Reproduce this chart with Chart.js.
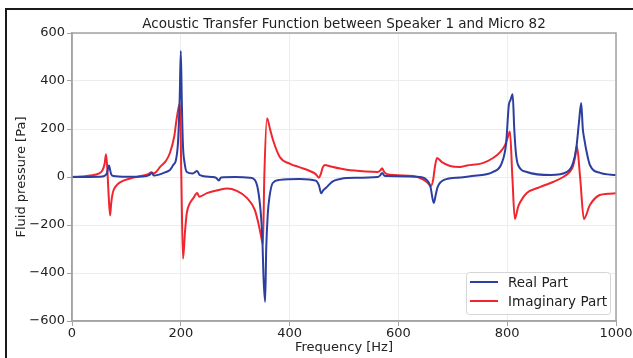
<!DOCTYPE html>
<html>
<head>
<meta charset="utf-8">
<title>Acoustic Transfer Function</title>
<script src="https://cdn.jsdelivr.net/npm/chart.js@4.4.1/dist/chart.umd.min.js"></script>
<style>
  html, body { margin: 0; padding: 0; background: #fff; overflow: hidden; }
  #wrap { position: relative; width: 633px; height: 358px; overflow: hidden; }
  #frame { position: absolute; left: 5px; top: 8px; width: 700px; height: 400px;
           border: 2px solid #1a1a1a; pointer-events: none; }
</style>
</head>
<body>
<div id="wrap">
  <canvas id="chart" width="633" height="358"></canvas>
  <div id="frame"></div>
</div>
<script>
// Datos (frecuencia en Hz, presión en Pa)
const realFreq = [0, 50, 60, 64, 68, 70, 72, 76, 100, 130, 142, 147, 150, 160, 172, 180, 186, 191, 195, 198, 200, 202, 204, 207, 211, 222, 230, 235, 257, 265, 270, 274, 300, 327, 336, 342, 347, 350, 352, 355, 357, 360, 363, 369, 382, 419, 448, 454, 458, 462, 467, 478, 493, 505, 562, 567, 570, 574, 579, 640, 655, 659, 665, 669, 672, 684, 713, 740, 774, 790, 798, 803, 806, 810, 813, 816, 820, 836, 880, 910, 921, 927, 932, 936, 939, 941, 948, 952, 971, 1000];
const realVals = [0, 1, 5, 15, 48, 30, 12, 4, 1, 2, 8, 17, 6, 10, 20, 29, 50, 70, 150, 330, 525, 300, 130, 58, 21, 15, 25, 8, 0, -4, -15, -2, 0, -3, -12, -54, -150, -260, -415, -520, -300, -150, -83, -25, -12, -8, -15, -35, -68, -55, -45, -20, -8, -4, 0, 8, 17, 6, 4, 0, -20, -42, -108, -70, -42, -12, -2, 5, 21, 58, 140, 300, 320, 345, 200, 100, 50, 21, 8, 21, 58, 120, 230, 308, 200, 167, 83, 50, 17, 8];

const imagFreq = [0, 15, 33, 50, 56, 60, 62.5, 65, 67, 70, 72, 75, 80, 90, 107, 125, 140, 146, 150, 155, 162, 172, 180, 188, 192, 196, 198.5, 201, 204, 208, 211, 217, 223, 230, 234, 248, 270, 285, 303, 322, 336, 342, 347, 351, 353.5, 358.5, 364, 369.5, 382, 401, 419, 437, 448, 454, 457, 461, 465, 474, 493, 505, 540, 562, 567, 570, 574, 579, 627, 645, 652, 660, 664, 667, 671, 680, 695, 713, 726, 755, 774, 787, 796, 801, 805, 809.5, 814, 820, 824, 836, 860, 884, 903, 915, 921, 925, 928, 934, 941, 952, 970, 985, 1000];
const imagVals = [0, 2, 6, 15, 28, 55, 95, 30, -60, -160, -110, -65, -40, -20, -6, 3, 12, 20, 15, 22, 42, 65, 100, 170, 237, 290, 305, 0, -340, -220, -150, -108, -88, -67, -82, -67, -54, -48, -58, -88, -137, -187, -240, -280, 0, 245, 200, 154, 83, 55, 40, 25, 12, -3, 10, 40, 50, 45, 35, 30, 23, 21, 28, 36, 20, 12, 4, -10, -21, -37, -10, 40, 79, 62, 46, 42, 48, 58, 79, 104, 133, 165, 190, 0, -175, -125, -104, -67, -42, -21, 0, 21, 45, 85, 130, 0, -175, -117, -75, -70, -68];

const xTicks = [0, 200, 400, 600, 800, 1000];
const yTicks = [-600, -400, -200, 0, 200, 400, 600];
const chartTitle = 'Acoustic Transfer Function between Speaker 1 and Micro 82';

const FONT = 'DejaVu Sans';
const BLUE = '#2c3e9f';
const RED = '#f0262e';
const AXIS_GREY = '#a3a3a3';

function toPoints(xs, ys){
  return xs.map((x, i) => ({ x: x, y: ys[i] }));
}

// Título centrado sobre el área del gráfico (no sobre el canvas)
const areaTitle = {
  id: 'areaTitle',
  afterDraw(chart){
    const { ctx, chartArea: a } = chart;
    ctx.save();
    ctx.font = '13.5px "' + FONT + '"';
    ctx.fillStyle = '#222';
    ctx.textAlign = 'center';
    ctx.textBaseline = 'alphabetic';
    ctx.fillText(chartTitle, (a.left + a.right) / 2, a.top - 5);
    ctx.restore();
  }
};

// Borde completo del área (arriba y derecha no los dibuja Chart.js)
const frameBox = {
  id: 'frameBox',
  afterDatasetsDraw(chart){
    const { ctx, chartArea: a } = chart;
    ctx.save();
    ctx.strokeStyle = AXIS_GREY;
    ctx.lineWidth = 1.5;
    ctx.strokeRect(a.left, a.top, a.right - a.left, a.bottom - a.top);
    ctx.restore();
  }
};

// Leyenda dentro del gráfico, abajo a la derecha
const innerLegend = {
  id: 'innerLegend',
  afterDraw(chart){
    const { ctx, chartArea: a } = chart;
    const w = 144, h = 42;
    const x0 = a.right - 6 - w, y0 = a.bottom - 7 - h;
    ctx.save();
    ctx.fillStyle = 'rgba(255,255,255,0.85)';
    ctx.strokeStyle = '#d6d6d6';
    ctx.lineWidth = 1;
    ctx.beginPath();
    ctx.roundRect(x0 + 0.5, y0 + 0.5, w, h, 3);
    ctx.fill();
    ctx.stroke();
    ctx.font = '13.5px "' + FONT + '"';
    ctx.textBaseline = 'middle';
    chart.data.datasets.forEach((ds, i) => {
      const y = y0 + 10 + i * 19;
      ctx.strokeStyle = ds.borderColor;
      ctx.lineWidth = 2;
      ctx.beginPath();
      ctx.moveTo(x0 + 4, y);
      ctx.lineTo(x0 + 32, y);
      ctx.stroke();
      ctx.fillStyle = '#222';
      ctx.fillText(ds.label, x0 + 42, y + 1);
    });
    ctx.restore();
  }
};

const ctx = document.getElementById('chart').getContext('2d');
new Chart(ctx, {
  type: 'line',
  data: {
    datasets: [
      { label: 'Real Part', data: toPoints(realFreq, realVals), borderColor: BLUE,
        borderWidth: 2, pointRadius: 0, fill: false, cubicInterpolationMode: 'monotone' },
      { label: 'Imaginary Part', data: toPoints(imagFreq, imagVals), borderColor: RED,
        borderWidth: 2, pointRadius: 0, fill: false, cubicInterpolationMode: 'monotone' }
    ]
  },
  options: {
    responsive: false,
    animation: false,
    layout: { padding: { left: 0, right: 17, top: 33, bottom: 0 } },
    plugins: {
      legend: { display: false },
      tooltip: { enabled: false },
      title: { display: false }
    },
    scales: {
      x: {
        type: 'linear',
        min: 0, max: 1000,
        afterBuildTicks: s => { s.ticks = xTicks.map(v => ({ value: v })); },
        afterFit: s => { s.height = 37; s.paddingRight = 0; },
        grid: { color: '#ededed', tickColor: AXIS_GREY, tickLength: 5, lineWidth: 1 },
        border: { color: AXIS_GREY, width: 1.5 },
        ticks: { color: '#222', padding: 0, font: { family: FONT, size: 13 },
                 callback: v => String(v) },
        title: { display: true, text: 'Frequency [Hz]', color: '#222',
                 font: { family: FONT, size: 13 }, padding: { top: 0, bottom: 3 } }
      },
      y: {
        min: -600, max: 600,
        afterBuildTicks: s => { s.ticks = yTicks.map(v => ({ value: v })); },
        afterFit: s => { s.width = 72; s.paddingTop = 0; s.paddingBottom = 0; },
        grid: { color: '#ededed', tickColor: AXIS_GREY, tickLength: 5, lineWidth: 1 },
        border: { color: AXIS_GREY, width: 1.5 },
        ticks: { color: '#222', padding: 2, font: { family: FONT, size: 13 },
                 callback: v => String(v).replace('-', '\u2212') },
        title: { display: true, text: 'Fluid pressure [Pa]', color: '#222',
                 font: { family: FONT, size: 13 }, padding: { top: 14, bottom: 0 } }
      }
    }
  },
  plugins: [areaTitle, frameBox, innerLegend]
});
</script>
</body>
</html>
